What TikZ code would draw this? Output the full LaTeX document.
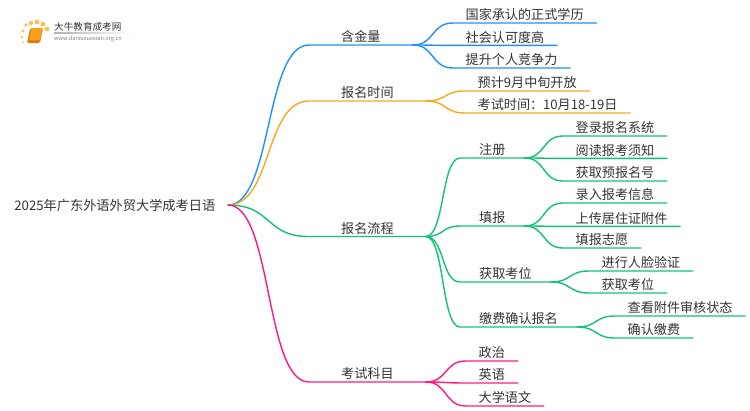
\documentclass[tikz,border=0pt]{standalone}
\usepackage{fontspec}
\setmainfont{Noto Sans CJK SC}
\usepackage{xcolor}
\usetikzlibrary{calc}
\definecolor{inkgrey}{HTML}{333333}
\definecolor{goldblue}{HTML}{1E90FF}
\definecolor{timeorange}{HTML}{F9A81E}
\definecolor{flowgreen}{HTML}{14C275}
\definecolor{examrose}{HTML}{FF1A80}
\definecolor{bookorange}{HTML}{F7A01A}
\definecolor{bookedge}{HTML}{E07C0A}
\definecolor{dotyellow}{HTML}{FBC04E}
\tikzset{
  topic/.style={anchor=south west,inner ysep=0pt,text height=11pt,text depth=3pt,
    font=\fontsize{13.1}{13.1}\selectfont,text=inkgrey},
  major/.style={topic,inner xsep=32pt},
  minor/.style={topic,inner xsep=19pt},
  leaf/.style={topic,inner xsep=12.5pt},
  link/.style={to path={let \p1=(\tikztostart),\p2=(\tikztotarget),
    \n1={\x1+0.55*(\x2-\x1)},\n2={\x2-0.55*(\x2-\x1)} in
    .. controls (\n1,\y1) and (\n2,\y2) .. (\p2)}},
  branch/.style={line width=1.4pt,line cap=round}
}

\begin{document}
\begin{tikzpicture}[x=1pt,y=-1pt]
\useasboundingbox (0,0) rectangle (750,410);

\foreach \dotx/\doty/\dotr in {23/42/1,22/37/1.3,23/31/1.6,26/25/1.9,31/23/2.2,37/22/2.4,43/24/2.4,47/29/2.4}
  \fill[dotyellow] (\dotx,\doty) circle (\dotr);
\fill[bookedge,rounded corners=1.5pt] (30,29) -- (32,28) -- (43,28) -- (40,43) -- (27,43) -- cycle;
\fill[bookorange,rounded corners=1pt] (32,28) -- (43,28) -- (40,40) -- (29,40) -- cycle;
\node[anchor=west,inner sep=0pt,font=\fontsize{9.6}{9.6}\selectfont,text=inkgrey] (LogoName) at (54,27) {大牛教育成考网};
\node[anchor=west,inner sep=0pt,font=\fontsize{5.6}{5.6}\selectfont,text=gray] (LogoUrl) at (54,38.5) {www.daniuxuexiao.org.cn};
\fill[left color=gray!60,right color=white] (54,32.8) rectangle (133,33.4);

\node[anchor=east,inner xsep=12.5pt,inner ysep=0pt,font=\fontsize{13.2}{13.2}\selectfont,text=inkgrey] (Root) at (228,205) {2025年广东外语外贸大学成考日语};

\node[major] (Gold) at (309,45) {含金量};
\node[leaf] (GoldA) at (453,23) {国家承认的正式学历};
\node[leaf] (GoldB) at (453,45.4) {社会认可度高};
\node[leaf] (GoldC) at (453,68) {提升个人竞争力};

\node[major] (Time) at (309,101) {报名时间};
\node[leaf] (TimeA) at (465,91) {预计9月中旬开放};
\node[leaf] (TimeB) at (465,113) {考试时间：10月18-19日};

\node[major] (Flow) at (309,236.5) {报名流程};
\node[minor] (Reg) at (460,158) {注册};
\node[leaf] (RegA) at (563,136) {登录报名系统};
\node[leaf] (RegB) at (563,158.4) {阅读报考须知};
\node[leaf] (RegC) at (563,181) {获取预报名号};
\node[minor] (Fill) at (460,226) {填报};
\node[leaf] (FillA) at (563,203) {录入报考信息};
\node[leaf] (FillB) at (563,226.4) {上传居住证附件};
\node[leaf] (FillC) at (563,248) {填报志愿};
\node[minor] (Seat) at (460,282) {获取考位};
\node[leaf] (SeatA) at (589,271) {进行人脸验证};
\node[leaf] (SeatB) at (589,293) {获取考位};
\node[minor] (Pay) at (460,327) {缴费确认报名};
\node[leaf] (PayA) at (615,316) {查看附件审核状态};
\node[leaf] (PayB) at (615,338) {确认缴费};

\node[major] (Exam) at (309,382) {考试科目};
\node[leaf] (ExamA) at (466,361) {政治};
\node[leaf] (ExamB) at (466,383) {英语};
\node[leaf] (ExamC) at (466,406) {大学语文};

\draw[branch,goldblue] (Root.east) to[link] (Gold.south west) -- (Gold.south east);
\draw[branch,goldblue] (Gold.south east) to[link] (GoldA.south west) -- (GoldA.south east);
\draw[branch,goldblue] (Gold.south east) to[link] (GoldB.south west) -- (GoldB.south east);
\draw[branch,goldblue] (Gold.south east) to[link] (GoldC.south west) -- (GoldC.south east);

\draw[branch,timeorange] (Root.east) to[link] (Time.south west) -- (Time.south east);
\draw[branch,timeorange] (Time.south east) to[link] (TimeA.south west) -- (TimeA.south east);
\draw[branch,timeorange] (Time.south east) to[link] (TimeB.south west) -- (TimeB.south east);

\draw[branch,flowgreen] (Root.east) to[link] (Flow.south west) -- (Flow.south east);
\draw[branch,flowgreen] (Flow.south east) to[link] (Reg.south west) -- (Reg.south east);
\draw[branch,flowgreen] (Flow.south east) to[link] (Fill.south west) -- (Fill.south east);
\draw[branch,flowgreen] (Flow.south east) to[link] (Seat.south west) -- (Seat.south east);
\draw[branch,flowgreen] (Flow.south east) to[link] (Pay.south west) -- (Pay.south east);
\draw[branch,flowgreen] (Reg.south east) to[link] (RegA.south west) -- (RegA.south east);
\draw[branch,flowgreen] (Reg.south east) to[link] (RegB.south west) -- (RegB.south east);
\draw[branch,flowgreen] (Reg.south east) to[link] (RegC.south west) -- (RegC.south east);
\draw[branch,flowgreen] (Fill.south east) to[link] (FillA.south west) -- (FillA.south east);
\draw[branch,flowgreen] (Fill.south east) to[link] (FillB.south west) -- (FillB.south east);
\draw[branch,flowgreen] (Fill.south east) to[link] (FillC.south west) -- (FillC.south east);
\draw[branch,flowgreen] (Seat.south east) to[link] (SeatA.south west) -- (SeatA.south east);
\draw[branch,flowgreen] (Seat.south east) to[link] (SeatB.south west) -- (SeatB.south east);
\draw[branch,flowgreen] (Pay.south east) to[link] (PayA.south west) -- (PayA.south east);
\draw[branch,flowgreen] (Pay.south east) to[link] (PayB.south west) -- (PayB.south east);

\draw[branch,examrose] (Root.east) to[link] (Exam.south west) -- (Exam.south east);
\draw[branch,examrose] (Exam.south east) to[link] (ExamA.south west) -- (ExamA.south east);
\draw[branch,examrose] (Exam.south east) to[link] (ExamB.south west) -- (ExamB.south east);
\draw[branch,examrose] (Exam.south east) to[link] (ExamC.south west) -- (ExamC.south east);
\end{tikzpicture}
\end{document}
